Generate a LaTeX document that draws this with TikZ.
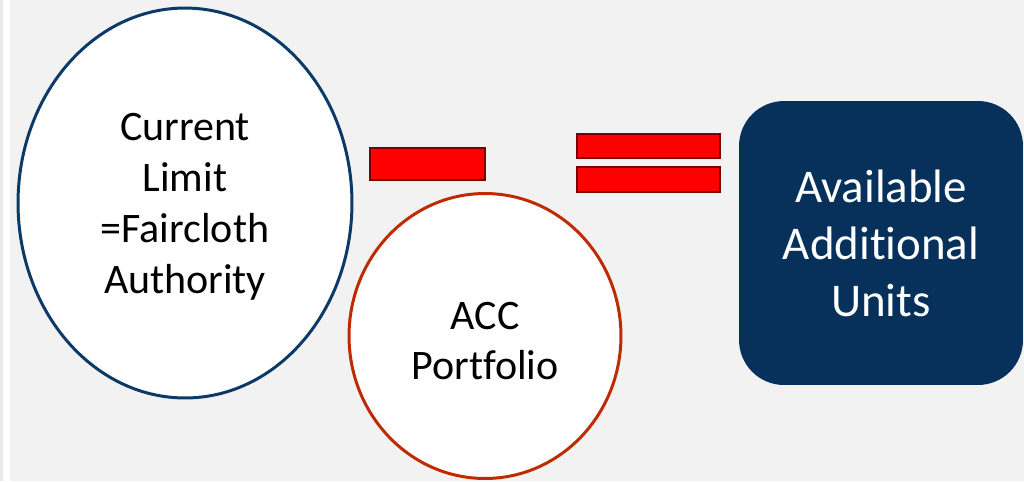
\documentclass[tikz,border=0pt]{standalone}
\usepackage{fontspec}
\setmainfont{Carlito}[RawFeature={-liga}]
\usetikzlibrary{shapes.geometric}
\definecolor{bggray}{HTML}{F2F2F2}
\definecolor{edgegray}{HTML}{EAEAEA}
\definecolor{navyline}{HTML}{0B3A66}
\definecolor{boxblue}{HTML}{07305A}
\definecolor{rustline}{HTML}{BF2B00}
\definecolor{darkred}{HTML}{7A0000}
\tikzset{
	bigtext/.style={font=\fontsize{23.9}{29}\selectfont, align=center}
}
\tikzset{
	boxtext/.style={font=\fontsize{26.7}{32.4}\selectfont, align=center, text=white}
}
\tikzset{
	signbar/.style={draw=darkred, fill=red, line width=1.5pt, inner sep=0pt}
}

\begin{document}
\begin{tikzpicture}[x=0.02cm, y=-0.02cm]

			% background
			\useasboundingbox (0,0) rectangle (1024,481);
			\fill[bggray] (0,0) rectangle (1024,481);
			\fill[edgegray] (0,0) rectangle (3,481);
			\fill[white] (3,0) rectangle (10,481);

			\node[ellipse, draw=navyline, fill=white, line width=1.7pt, inner sep=0pt,
				minimum width=6.68cm, minimum height=7.8cm] (limit) at (185,203) {};
			\node[bigtext] (limittext) at (185,207) {Current\\Limit\\=Faircloth\\Authority};

			\node[ellipse, draw=rustline, fill=white, line width=1.7pt, inner sep=0pt,
				minimum width=5.44cm, minimum height=5.7cm] (acc) at (485,336) {};
			\node[bigtext] (acctext) at (485,341) {ACC\\Portfolio};

			\node[signbar, minimum width=2.3cm, minimum height=0.64cm] (minus) at (427.5,164) {};
			\node[signbar, minimum width=2.86cm, minimum height=0.48cm] (eqtop) at (648.5,146) {};
			\node[signbar, minimum width=2.86cm, minimum height=0.5cm] (eqbot) at (648.5,179.5) {};

			\node[rectangle, rounded corners=0.9cm, fill=boxblue, inner sep=0pt,
				minimum width=5.68cm, minimum height=5.68cm, boxtext] (units) at (881,243)
				{Available\\Additional\\Units};

		\end{tikzpicture}
\end{document}
